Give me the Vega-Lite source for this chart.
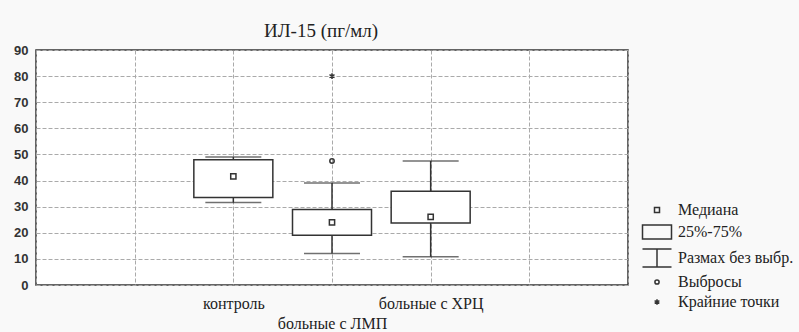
{
  "$schema": "https://vega.github.io/schema/vega-lite/v6.json",
  "autosize": {"type": "none"},
  "padding": {"left": 36, "top": 50, "right": 171, "bottom": 47},
  "width": 592,
  "height": 235,
  "background": "#f9f9f9",
  "title": {"text": "ИЛ-15 (пг/мл)", "font": "Liberation Serif", "fontSize": 19, "fontWeight": "normal", "color": "#222", "anchor": "middle", "dx": -11, "offset": 3},
  "config": {
    "view": {"stroke": "#333", "strokeWidth": 1.5, "fill": "white"},
    "axis": {"gridColor": "#aaa", "gridDash": [4, 2], "gridWidth": 1, "domain": false, "ticks": false, "title": null},
    "axisY": {"tickCount": 9, "labelOverlap": false, "labelFont": "Liberation Sans", "labelFontSize": 13, "labelFontWeight": "bold", "labelColor": "#333", "labelPadding": 8, "grid": true}
  },
  "datasets": {
    "boxes": [
      {"g": "контроль", "lo": 31.6, "q1": 33.5, "med": 41.6, "q3": 48.0, "hi": 49.0},
      {"g": "больные с ЛМП", "lo": 12.1, "q1": 19.1, "med": 24.0, "q3": 28.9, "hi": 39.1},
      {"g": "больные с ХРЦ", "lo": 10.8, "q1": 23.7, "med": 26.1, "q3": 35.9, "hi": 47.5}
    ],
    "points": [
      {"g": "контроль", "v": 41.6, "kind": "Медиана"},
      {"g": "больные с ЛМП", "v": 24.0, "kind": "Медиана"},
      {"g": "больные с ХРЦ", "v": 26.1, "kind": "Медиана"},
      {"g": "больные с ЛМП", "v": 47.5, "kind": "Выбросы"},
      {"g": "больные с ЛМП", "v": 80.0, "kind": "Крайние точки"}
    ]
  },
  "encoding": {
    "x": {
      "field": "g", "type": "nominal",
      "scale": {"type": "point", "padding": 0, "domain": ["·a", "·b", "контроль", "больные с ЛМП", "больные с ХРЦ", "·c", "·d"]},
      "axis": {"labelAngle": 0, "labelFont": "Liberation Serif", "labelFontSize": 16, "labelColor": "#222", "labelPadding": 10, "labelLineHeight": 20, "labelBaseline": "top", "grid": true,
        "labelExpr": "indexof(datum.value, '·') == 0 ? '' : (datum.value == 'больные с ЛМП' ? ['', datum.value] : datum.value)"}
    }
  },
  "layer": [
    {
      "data": {"name": "boxes"},
      "mark": {"type": "rule", "stroke": "#333", "strokeWidth": 1.5},
      "encoding": {
        "y": {"field": "lo", "type": "quantitative", "scale": {"domain": [0, 90], "nice": false}},
        "y2": {"field": "hi"}
      }
    },
    {
      "data": {"name": "boxes"},
      "mark": {"type": "bar", "width": 79, "fill": "white", "stroke": "#333", "strokeWidth": 1.5},
      "encoding": {
        "y": {"field": "q1", "type": "quantitative"},
        "y2": {"field": "q3"}
      }
    },
    {
      "data": {"name": "boxes"},
      "mark": {"type": "tick", "size": 56, "thickness": 1.5, "color": "#333", "orient": "horizontal"},
      "encoding": {"y": {"field": "lo", "type": "quantitative"}}
    },
    {
      "data": {"name": "boxes"},
      "mark": {"type": "tick", "size": 56, "thickness": 1.5, "color": "#333", "orient": "horizontal"},
      "encoding": {"y": {"field": "hi", "type": "quantitative"}}
    },
    {
      "data": {"name": "points"},
      "mark": {"type": "point", "filled": false, "stroke": "#333", "strokeWidth": 1.5, "size": 110, "opacity": 1},
      "encoding": {
        "y": {"field": "v", "type": "quantitative"},
        "shape": {
          "field": "kind", "type": "nominal",
          "scale": {
            "domain": ["Медиана", "25%-75%", "Размах без выбр.", "Выбросы", "Крайние точки"],
            "range": [
              "M-0.5,-0.5H0.5V0.5H-0.5Z",
              "M-2.9,-1.4H2.9V1.4H-2.9Z",
              "M-2.9,-1.8H2.9M0,-1.8V1.8M-2.9,1.8H2.9",
              "M0.42,0A0.42,0.42,0,1,1,-0.42,0A0.42,0.42,0,1,1,0.42,0Z",
              "M0,-0.55V0.55M-0.48,-0.28L0.48,0.28M-0.48,0.28L0.48,-0.28"
            ]
          },
          "legend": {
            "title": null, "orient": "none", "legendX": 613, "legendY": 152, "padding": 0,
            "symbolSize": 100, "symbolStrokeColor": "#333", "symbolStrokeWidth": 1.5, "symbolFillColor": "white",
            "labelFont": "Liberation Serif", "labelFontSize": 16, "labelColor": "#222", "labelOffset": 13, "rowPadding": 4, "labelLimit": 200
          }
        }
      }
    }
  ]
}
